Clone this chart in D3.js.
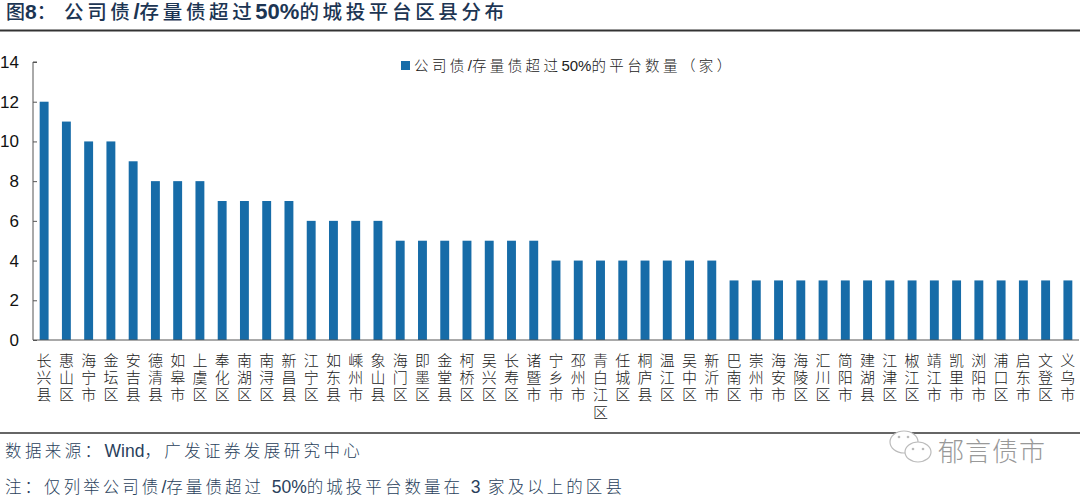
<!DOCTYPE html>
<html><head><meta charset="utf-8">
<script src="https://cdn.jsdelivr.net/npm/d3@7"></script>
<style>html,body{margin:0;padding:0;background:#fff}svg{display:block}</style></head>
<body><svg id="c" width="1080" height="498"></svg>
<script>
const categories=["长兴县","惠山区","海宁市","金坛区","安吉县","德清县","如皋市","上虞区","奉化区","南湖区","南浔区","新昌县","江宁区","如东县","嵊州市","象山县","海门区","即墨区","金堂县","柯桥区","吴兴区","长寿区","诸暨市","宁乡市","邳州市","青白江区","任城区","桐庐县","温江区","吴中区","新沂市","巴南区","崇州市","海安市","海陵区","汇川区","简阳市","建湖县","江津区","椒江区","靖江市","凯里市","浏阳市","浦口区","启东市","文登区","义乌市"];
const values=[12,11,10,10,9,8,8,8,7,7,7,7,6,6,6,6,5,5,5,5,5,5,5,4,4,4,4,4,4,4,4,3,3,3,3,3,3,3,3,3,3,3,3,3,3,3,3];
const yTicks=[0,2,4,6,8,10,12,14];
const figText="图8：";
const titleText="公司债/存量债超过50%的城投平台区县分布";
const legendText="公司债/存量债超过50%的平台数量（家）";
const sourceText="数据来源：Wind，广发证券发展研究中心";
const noteText="注：仅列举公司债/存量债超过 50%的城投平台数量在 3 家及以上的区县";
const watermark="郁言债市";
const CJK='"Liberation Sans","Noto Sans CJK SC",sans-serif', LAT='"Liberation Sans",Arial,sans-serif';
const svg=d3.select("#c");
function rich(px,py,text,o){
  const t=svg.append("text").attr("x",px).attr("y",py).attr("font-family",CJK).attr("fill",o.fill);
  (text.match(/[A-Za-z0-9%\/]+|[^A-Za-z0-9%\/]+/g)||[]).forEach(r=>{
    const lat=/^[A-Za-z0-9%\/]/.test(r);
    t.append("tspan").attr("font-size",lat?o.latSize:o.size).attr("font-weight",lat?o.latWeight:o.weight)
     .attr("letter-spacing",lat?0:o.spacing).text(r);
  });
  return t;
}
const x=d3.scaleBand().domain(categories).range([33,1079]).paddingInner(0.6).paddingOuter(0.3);
const y=d3.scaleLinear().domain([0,14]).range([340,62]);
rich(6,19,figText,{fill:"#1c3553",size:19,latSize:21,weight:500,latWeight:700,spacing:0});
rich(64,19,titleText,{fill:"#1c3553",size:19.5,latSize:22,weight:500,latWeight:700,spacing:3.65});
[[30.5,1.8],[433,1.5]].forEach(d=>svg.append("line").attr("x1",0).attr("x2",1080).attr("y1",d[0]).attr("y2",d[0]).attr("stroke","#333").attr("stroke-width",d[1]));
svg.selectAll("rect.bar").data(values).join("rect").attr("class","bar")
 .attr("x",(d,i)=>x(categories[i])).attr("width",x.bandwidth())
 .attr("y",d=>y(d)).attr("height",d=>y(0)-y(d)).attr("fill","#176ca8");
const ax=d3.axisLeft(y).tickValues(yTicks).tickSize(4).tickPadding(10);
const g=svg.append("g").attr("transform","translate(33,0)").call(ax);
g.selectAll("path,line").attr("stroke","#555").attr("stroke-width",1);
g.selectAll("text").attr("font-family",LAT).attr("font-size",17).attr("fill","#111");
g.selectAll(".tick line").attr("x2",4);
g.select("path").attr("d","M4,62H0V340");
svg.append("line").attr("x1",33).attr("x2",1079).attr("y1",340).attr("y2",340).attr("stroke","#555");
const lab=svg.append("g").selectAll("text").data(categories).join("text")
 .attr("text-anchor","middle").attr("font-family",CJK).attr("font-size",15).attr("fill","#222").attr("font-weight",300)
 .attr("x",d=>x(d)+x.bandwidth()/2).attr("y",365.5);
lab.selectAll("tspan").data(d=>Array.from(d)).join("tspan").attr("x",function(){return d3.select(this.parentNode).attr("x")}).attr("dy",(d,i)=>i?17.4:0).text(d=>d);
svg.append("rect").attr("x",401).attr("y",61).attr("width",9).attr("height",9).attr("fill","#176ca8");
rich(414,71,legendText,{fill:"#222",size:14.5,latSize:15,weight:300,latWeight:400,spacing:3.4});
rich(5,457,sourceText,{fill:"#2a3f5c",size:16.5,latSize:17.5,weight:300,latWeight:400,spacing:3.4});
rich(5,493,noteText,{fill:"#2a3f5c",size:16.5,latSize:17.5,weight:300,latWeight:400,spacing:3.05});
svg.append("text").attr("x",938).attr("y",461).attr("font-family",CJK).attr("font-size",26).attr("font-weight",300).attr("letter-spacing",1).attr("fill","#999").text(watermark);
const wm=svg.append("g").attr("fill","#fff").attr("stroke","#bbb").attr("stroke-width",1.2);
wm.append("ellipse").attr("cx",904).attr("cy",442).attr("rx",14).attr("ry",11);
wm.append("ellipse").attr("cx",918).attr("cy",452).attr("rx",13).attr("ry",10);
const eyes=[[899,437],[908,437],[913,449],[923,449]];
wm.selectAll("circle").data(eyes).join("circle").attr("cx",d=>d[0]).attr("cy",d=>d[1]).attr("r",1.3).attr("fill","#bbb").attr("stroke","none");
</script></body></html>
